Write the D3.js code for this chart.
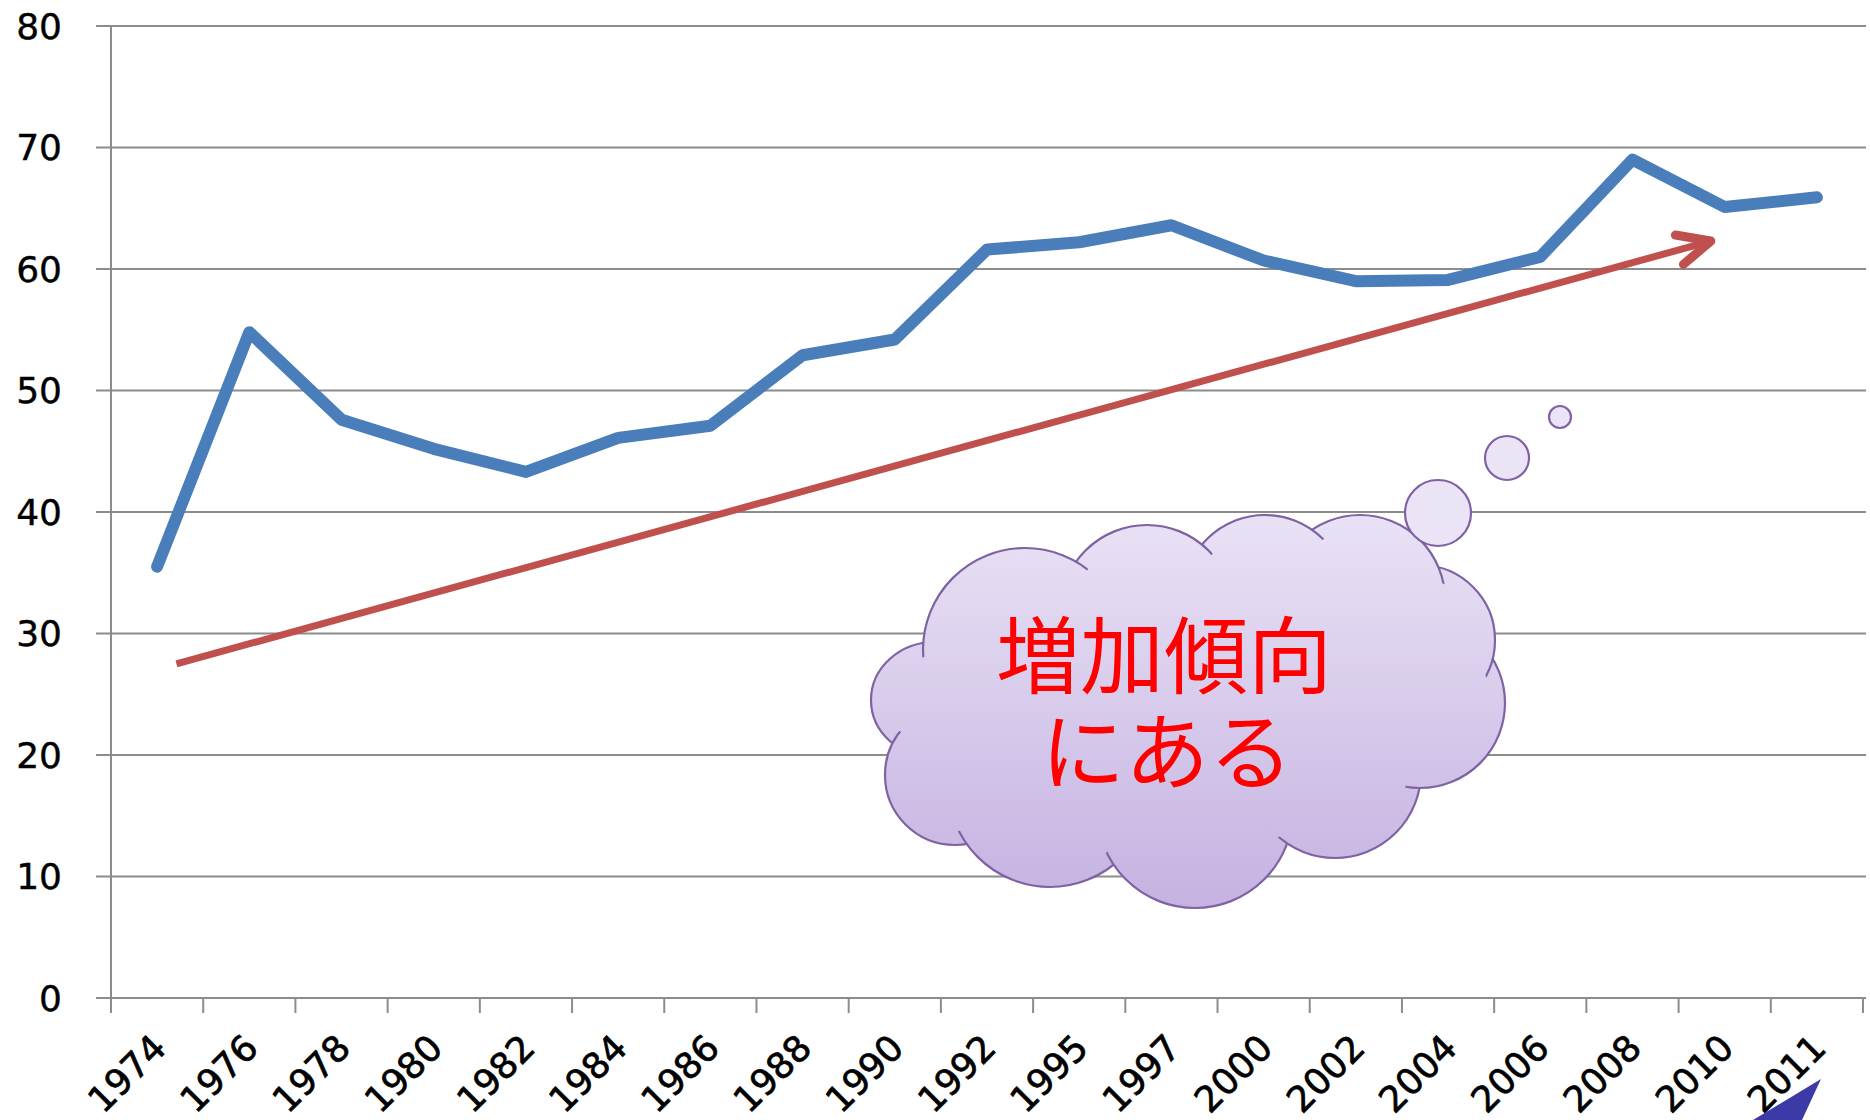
<!DOCTYPE html>
<html>
<head>
<meta charset="utf-8">
<script src="https://cdn.jsdelivr.net/npm/d3@7"></script>
<style>
	body{ margin:0; background:#fff; }
	svg{ display:block; }
	.ylab, .xlab{ font-family:"DejaVu Sans", Verdana, sans-serif; fill:#000; }
</style>
</head>
<body>
<div id="chart"></div>
<script>
var years = ["1974","1976","1978","1980","1982","1984","1986","1988","1990","1992",
	"1995","1997","2000","2002","2004","2006","2008","2010","2011"];
var values = [35.5, 54.8, 47.6, 45.2, 43.3, 46.1, 47.1, 52.9, 54.2, 61.6,
	62.2, 63.6, 60.7, 59.0, 59.1, 61.0, 69.0, 65.1, 65.9];
var yTicks = [0, 10, 20, 30, 40, 50, 60, 70, 80];
// trend arrow, as [category index, value]
var trend = [[0.21, 27.5], [16.85, 62.3]];
var noteLines = ["増加傾向", "にある"];

var width = 1870, height = 1120;
var plotLeft = 111, plotRight = 1863, plotTop = 26, plotBottom = 998;

var svg = d3.select("#chart").append("svg")
	.attr("width", width)
	.attr("height", height);

var x = d3.scaleBand().domain(years).range([plotLeft, plotRight]);
var xi = d3.scaleLinear().domain([-0.5, years.length - 0.5]).range([plotLeft, plotRight]);
var y = d3.scaleLinear().domain([0, 80]).range([plotBottom, plotTop]);

// grid
svg.append("g")
		.selectAll("line")
		.data(yTicks)
	.enter().append("line")
		.attr("x1", 96).attr("x2", 1866)
		.attr("y1", function(d){ return y(d); })
		.attr("y2", function(d){ return y(d); })
		.style("stroke", "#8c8c8c")
		.style("stroke-width", 2.2);

svg.append("line")
	.attr("x1", plotLeft).attr("x2", plotLeft)
	.attr("y1", y(80)).attr("y2", y(0))
	.style("stroke", "#8c8c8c")
	.style("stroke-width", 2);

svg.append("g")
		.selectAll("text")
		.data(yTicks)
	.enter().append("text")
		.attr("class", "ylab")
		.attr("x", 62)
		.attr("y", function(d){ return y(d); })
		.attr("dy", "0.36em")
		.attr("text-anchor", "end")
		.style("font-size", "36px")
		.style("stroke", "#000")
		.style("stroke-width", 0.4)
		.text(function(d){ return d; });

// x axis ticks and labels
var bounds = d3.range(years.length + 1).map(function(i){ return plotLeft + i * x.step(); });
svg.append("g")
		.selectAll("line")
		.data(bounds)
	.enter().append("line")
		.attr("x1", function(d){ return d; })
		.attr("x2", function(d){ return d; })
		.attr("y1", plotBottom).attr("y2", plotBottom + 15)
		.style("stroke", "#8c8c8c")
		.style("stroke-width", 2);

svg.append("g")
		.selectAll("text")
		.data(years)
	.enter().append("text")
		.attr("class", "xlab")
		.attr("text-anchor", "end")
		.attr("transform", function(d){
			var px = x(d) + x.bandwidth() / 2 + 11;
			return "translate(" + px + "," + (plotBottom + 52) + ") rotate(-45)";
		})
		.style("font-size", "36px")
		.style("stroke", "#000")
		.style("stroke-width", 0.7)
		.text(function(d){ return d; });

// data line
var line = d3.line()
	.x(function(d, i){ return x(years[i]) + x.bandwidth() / 2; })
	.y(function(d){ return y(d); });

svg.append("path")
	.datum(values)
	.attr("d", line)
	.style("fill", "none")
	.style("stroke", "#4a7ebb")
	.style("stroke-width", 12)
	.style("stroke-linejoin", "round")
	.style("stroke-linecap", "round");

// trend arrow
var p0 = [xi(trend[0][0]), y(trend[0][1])];
var p1 = [xi(trend[1][0]), y(trend[1][1])];
var ang = Math.atan2(p1[1] - p0[1], p1[0] - p0[0]);
var headLen = 36, headAng = 25 * Math.PI / 180;
var h1 = [p1[0] - headLen * Math.cos(ang - headAng), p1[1] - headLen * Math.sin(ang - headAng)];
var h2 = [p1[0] - headLen * Math.cos(ang + headAng), p1[1] - headLen * Math.sin(ang + headAng)];

svg.append("line")
	.attr("x1", p0[0]).attr("y1", p0[1])
	.attr("x2", p1[0] - 4 * Math.cos(ang)).attr("y2", p1[1] - 4 * Math.sin(ang))
	.style("stroke", "#c0504d")
	.style("stroke-width", 7);

svg.append("path")
	.attr("d", "M" + h1 + "L" + p1 + "L" + h2)
	.style("fill", "none")
	.style("stroke", "#c0504d")
	.style("stroke-width", 9)
	.style("stroke-linejoin", "round")
	.style("stroke-linecap", "round");

// cloud callout
var defs = svg.append("defs");
var grad = defs.append("linearGradient")
	.attr("id", "cloudFill")
	.attr("gradientUnits", "userSpaceOnUse")
	.attr("x1", 0).attr("x2", 0)
	.attr("y1", 515).attr("y2", 908);
grad.append("stop").attr("offset", 0).attr("stop-color", "#e9e2f5");
grad.append("stop").attr("offset", 1).attr("stop-color", "#c5b2e1");

var lobes = [
	[935, 700, 64, 58], [955, 775, 70, 70], [1050, 785, 102, 102], [1195, 810, 98, 98],
	[1335, 772, 86, 86], [1420, 703, 85, 85], [1420, 640, 75, 75], [1360, 600, 85, 85],
	[1265, 597, 82, 82], [1147, 612, 87, 87], [1025, 650, 102, 102]
];

var cloud = svg.append("g");
cloud.selectAll("ellipse.edge")
		.data(lobes)
	.enter().append("ellipse")
		.attr("class", "edge")
		.attr("cx", function(d){ return d[0]; })
		.attr("cy", function(d){ return d[1]; })
		.attr("rx", function(d){ return d[2]; })
		.attr("ry", function(d){ return d[3]; })
		.style("fill", "url(#cloudFill)")
		.style("stroke", "#7f62a3")
		.style("stroke-width", 2.2);

cloud.selectAll("ellipse.inner")
		.data(lobes)
	.enter().append("ellipse")
		.attr("class", "inner")
		.attr("cx", function(d){ return d[0]; })
		.attr("cy", function(d){ return d[1]; })
		.attr("rx", function(d){ return d[2] - 14; })
		.attr("ry", function(d){ return d[3] - 14; })
		.style("fill", "url(#cloudFill)");

cloud.append("ellipse")
	.attr("cx", 1180).attr("cy", 710)
	.attr("rx", 235).attr("ry", 140)
	.style("fill", "url(#cloudFill)");

var bubbles = [[1438, 513, 33], [1507, 458, 22], [1560, 417, 11]];
svg.append("g")
		.selectAll("circle")
		.data(bubbles)
	.enter().append("circle")
		.attr("cx", function(d){ return d[0]; })
		.attr("cy", function(d){ return d[1]; })
		.attr("r", function(d){ return d[2]; })
		.style("fill", "#ebe4f6")
		.style("stroke", "#7f62a3")
		.style("stroke-width", 2.2);

svg.append("g")
		.selectAll("text")
		.data(noteLines)
	.enter().append("text")
		.attr("x", function(d, i){ return i ? 1167 : 1164; })
		.attr("y", function(d, i){ return i ? 753 : 657; })
		.attr("dy", "0.36em")
		.attr("text-anchor", "middle")
		.style("font-family", "'Noto Sans CJK JP', sans-serif")
		.style("font-size", "84px")
		.style("fill", "#ff0000")
		.text(function(d){ return d; });

// clipped corner of a picture at the bottom edge
svg.append("path")
	.attr("d", "M1821,1079 L1753,1120 L1802,1120 Z")
	.style("fill", "#3b3aa6");
</script>
</body>
</html>
